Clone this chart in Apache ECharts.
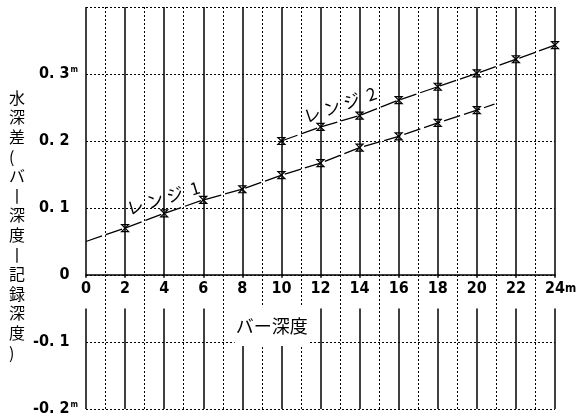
<!DOCTYPE html>
<html>
<head>
<meta charset="UTF-8">
<title></title>
<script src="https://cdn.jsdelivr.net/npm/echarts@6/dist/echarts.min.js"></script>
<style>
  html, body { margin: 0; padding: 0; background: #fff; }
</style>
</head>
<body>
<div id="main" style="width:585px;height:420px;"></div>
<script>
// bar depth (m) vs. water depth difference (m)
var range1X = [0, 2, 4, 6, 8, 10, 12, 14, 16, 18, 20, 20.9];
var range1Y = [0.05, 0.07, 0.092, 0.112, 0.128, 0.149, 0.167, 0.19, 0.207, 0.227, 0.246, 0.255];
var range2X = [10, 12, 14, 16, 18, 20, 22, 24];
var range2Y = [0.2, 0.221, 0.238, 0.261, 0.281, 0.301, 0.322, 0.343];
var xTicks = [0, 2, 4, 6, 8, 10, 12, 14, 16, 18, 20, 22, 24];
var xMinor = [1, 3, 5, 7, 9, 11, 13, 15, 17, 19, 21, 23];
var yTicks = [-0.2, -0.1, 0, 0.1, 0.2, 0.3];
var yUnitTicks = [-0.2, 0.3];
var yName = ['水', '深', '差', '(', 'バ', '丨', '深', '度', '丨', '記', '録', '深', '度', ')'];

var numFont = "'Liberation Sans Narrow', 'DejaVu Sans Condensed', 'Liberation Sans', sans-serif";
var jpFont = "'Noto Sans CJK JP', sans-serif";
var marker = 'path://M0,0L10,0L0,10L10,10Z';

function pts(xs, ys, noEnds) {
  return xs.map(function (x, i) {
    var p = { value: [x, ys[i]] };
    if (noEnds && (i === 0 || i === xs.length - 1)) p.symbol = 'none';
    return p;
  });
}

// solid grid lines at even depths, broken where the tick labels sit
var solidGrid = [];
xTicks.forEach(function (x) {
  solidGrid.push([{ coord: [x, 0.4] }, { coord: [x, -0.004] }]);
  solidGrid.push([{ coord: [x, -0.05] }, { coord: [x, -0.2] }]);
});
// dotted grid lines at odd depths, full height
var dotGrid = xMinor.map(function (x) {
  return [{ coord: [x, 0.4] }, { coord: [x, -0.2] }];
});

var myChart = echarts.init(document.getElementById('main'));
myChart.setOption({
  animation: false,
  backgroundColor: '#fff',
  grid: { left: 86, right: 30, top: 7, bottom: 11, outerBoundsMode: 'none', containLabel: false },
  graphic: [{
    type: 'text',
    left: 9,
    top: 88,
    style: {
      text: yName.join('\n'),
      font: '16px ' + jpFont,
      lineHeight: 19.6,
      fill: '#000',
      align: 'center'
    }
  }],
  xAxis: {
    type: 'value', min: 0, max: 24, interval: 2,
    position: 'bottom',
    offset: -134,
    axisLine: { onZero: false, lineStyle: { color: '#000', width: 1.5 } },
    axisTick: { show: false },
    splitLine: { show: false },
    axisLabel: {
      margin: 6,
      color: '#000',
      fontFamily: numFont,
      fontSize: 16,
      fontWeight: 'bold',
      formatter: function (v) {
        return v === 24 ? '{h|m}24{m|m}' : String(v);
      },
      rich: {
        m: { fontFamily: numFont, fontSize: 12, fontWeight: 'bold', color: '#000' },
        h: { fontFamily: numFont, fontSize: 12, color: 'rgba(0,0,0,0)' }
      }
    }
  },
  yAxis: {
    type: 'value', min: -0.2, max: 0.4, interval: 0.1,
    axisLine: { show: false },
    axisTick: { show: false },
    splitLine: { lineStyle: { color: '#000', width: 1, type: [2, 2] } },
    axisLabel: {
      margin: 8,
      color: '#000',
      fontFamily: numFont,
      fontSize: 16,
      fontWeight: 'bold',
      formatter: function (v) {
        var r = Math.round(v * 10) / 10;
        if (yTicks.indexOf(r) < 0) return '';
        var s = r === 0 ? '0' : (r < 0 ? '-0. ' : '0. ') + Math.abs(Math.round(r * 10));
        return s + (yUnitTicks.indexOf(r) >= 0 ? '{m|m}' : '{n|m}');
      },
      rich: {
        m: { fontFamily: numFont, fontSize: 8, fontWeight: 'bold', color: '#000', padding: [0, 0, 8, 1] },
        n: { fontFamily: numFont, fontSize: 8, color: 'rgba(0,0,0,0)', padding: [0, 0, 8, 1] }
      }
    }
  },
  series: [{
    type: 'line',
    data: [],
    silent: true,
    markLine: {
      silent: true,
      symbol: 'none',
      label: { show: false },
      lineStyle: { color: '#000', width: 1, type: [2, 2] },
      data: dotGrid
    }
  }, {
    type: 'line',
    data: [],
    silent: true,
    markLine: {
      silent: true,
      symbol: 'none',
      label: { show: false },
      lineStyle: { color: '#000', width: 1.5, type: 'solid' },
      data: solidGrid
    }
  }, {
    type: 'line',
    data: pts(range1X, range1Y, true),
    symbol: marker,
    symbolSize: 7,
    itemStyle: { color: '#fff', borderColor: '#000', borderWidth: 1.2 },
    lineStyle: { color: '#000', width: 1.3, type: [17, 4] },
    markPoint: {
      symbol: 'circle', symbolSize: 0,
      data: [
        { coord: [3.95, 0.115], label: { formatter: 'レ ン ジ  1', rotate: 17 } },
        { coord: [9.5, -0.077], label: {
          formatter: 'バー深度', rotate: 0, fontSize: 18,
          backgroundColor: '#fff', padding: [13, 1, 8, 1]
        } }
      ],
      label: { show: true, position: 'inside', color: '#000', fontFamily: jpFont, fontSize: 17 }
    }
  }, {
    type: 'line',
    data: pts(range2X, range2Y, false),
    symbol: marker,
    symbolSize: 7,
    itemStyle: { color: '#fff', borderColor: '#000', borderWidth: 1.2 },
    lineStyle: { color: '#000', width: 1.3, type: [17, 4] },
    markPoint: {
      symbol: 'circle', symbolSize: 0,
      data: [
        { coord: [13.0, 0.254], label: { formatter: 'レ ン ジ  2', rotate: 19 } }
      ],
      label: { show: true, position: 'inside', color: '#000', fontFamily: jpFont, fontSize: 17 }
    }
  }]
});
</script>
</body>
</html>
